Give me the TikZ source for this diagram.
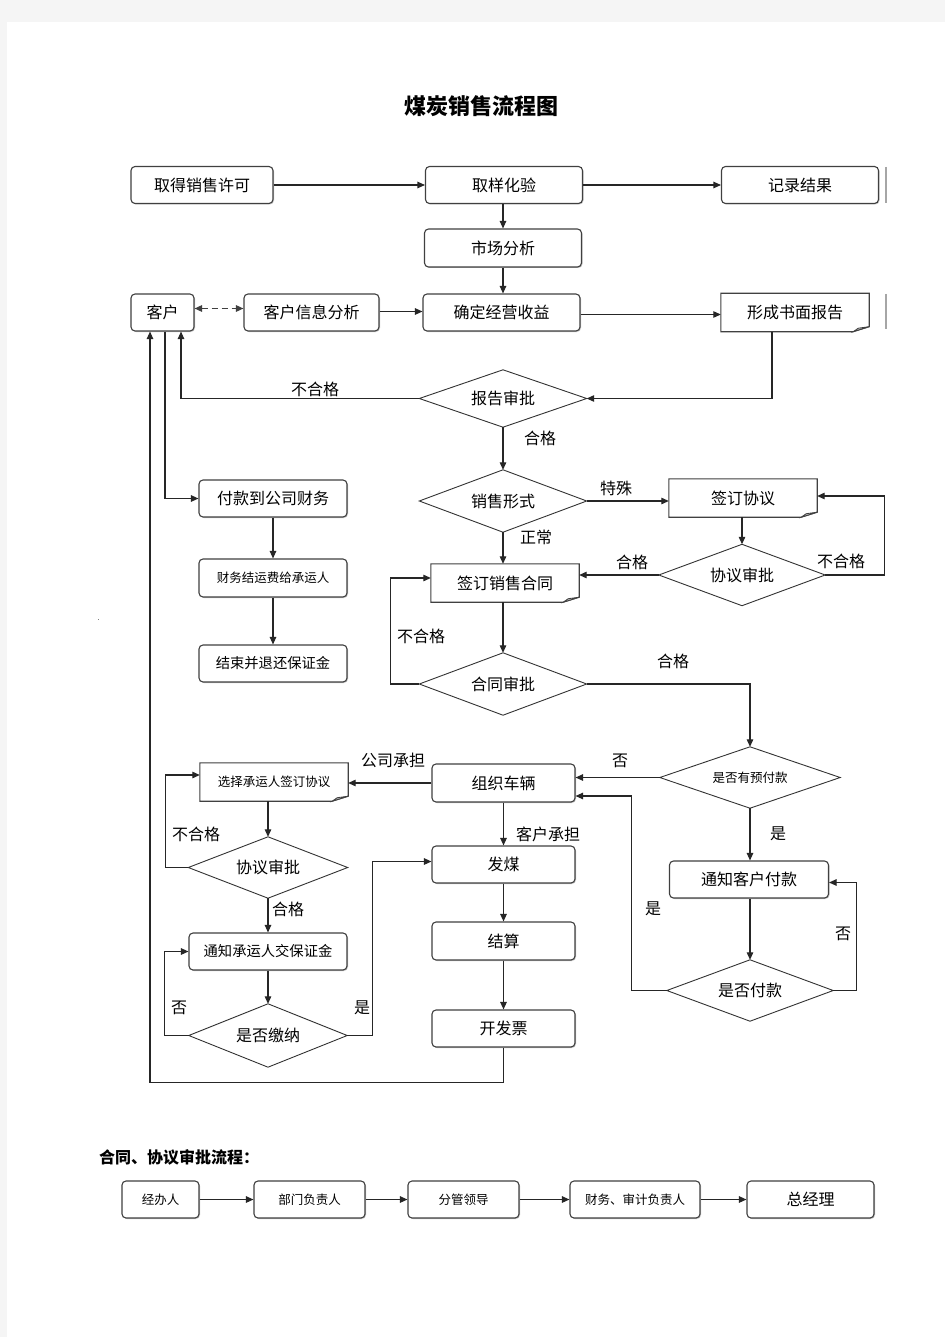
\documentclass[tikz,border=0pt]{standalone}
\usepackage{fontspec}
\setmainfont{Noto Sans CJK SC}
\usetikzlibrary{arrows.meta,shadows}
\newcommand\docoutline[1]{%
  \draw[black!75, line width=1.1pt, fill=white] ([xshift=-16pt]#1.south east) -- (#1.south west) -- (#1.north west) -- (#1.north east) -- ([yshift=5pt]#1.south east) -- cycle;
  \draw[black!75, line width=0.8pt, fill=black!25] ([yshift=5pt]#1.south east) -- ([xshift=-11pt,yshift=3.5pt]#1.south east) -- ([xshift=-16pt]#1.south east) -- cycle;
}
\newcommand\diaoutline[1]{%
  \draw[black!80, line width=0.9pt, line join=miter] (#1.north) -- (#1.east) -- (#1.south) -- (#1.west) -- cycle;
}
\begin{document}
\begin{tikzpicture}[x=1pt,y=-1pt,
  every node/.style={inner sep=0pt, font=\fontsize{16}{18}\selectfont},
  box/.style={draw=black!75, line width=1.1pt, rounded corners=4pt, fill=white, minimum height=37pt,
    drop shadow={shadow xshift=1pt, shadow yshift=-1pt, opacity=0.3, fill=black!70}},
  docbox/.style={minimum height=38pt},
  dia/.style={rectangle},
  arr/.style={draw=black!85, line width=1.1pt, -{Triangle[length=7.5pt,width=6.5pt]}},
  small/.style={font=\fontsize{12.5}{14}\selectfont},
  mid/.style={font=\fontsize{14.3}{16}\selectfont},
]
\fill[black!4] (0,0) rectangle (945,1337);
\fill[white] (7,22) rectangle (945,1337);
\useasboundingbox (0,0) rectangle (945,1337);

\node[font=\fontsize{22}{24}\selectfont\bfseries] (title) at (481,106) {煤炭销售流程图};

% row 1
\node[box, minimum width=142pt] (n1) at (202,185) {取得销售许可};
\node[box, minimum width=157pt] (n2) at (504,185) {取样化验};
\node[box, minimum width=157pt] (n3) at (800,185) {记录结果};
\node[box, minimum width=157pt, minimum height=38pt] (n4) at (503,248) {市场分析};
\node[box, minimum width=63pt] (kh) at (162.5,312.5) {客户};
\node[box, minimum width=135pt] (xx) at (311.5,312.5) {客户信息分析};
\node[box, minimum width=157pt] (qd) at (501.5,312.5) {确定经营收益};
\node[docbox, minimum width=148pt] (bg) at (795,312.5) {};
\docoutline{bg}
\node (bgt) at (bg) {形成书面报告};

% gray cut-off shapes at the right edge
\draw[black!35, line width=1.5pt] (886,167) -- (886,203);
\draw[black!35, line width=1.5pt] (886,294) -- (886,329);

\node[dia, minimum width=167pt, minimum height=57pt] (sp) at (503,398.5) {报告审批};
\diaoutline{sp}
\node[dia, minimum width=167pt, minimum height=62pt] (xs) at (503,501) {销售形式};
\diaoutline{xs}
\node[docbox, minimum width=148pt] (qy) at (743,498) {};
\docoutline{qy}
\node (qyt) at (qy) {签订协议};
\node[dia, minimum width=166pt, minimum height=61pt] (xy) at (742,575) {协议审批};
\diaoutline{xy}
\node[docbox, minimum width=148pt] (ht) at (505,583) {};
\docoutline{ht}
\node (htt) at (ht) {签订销售合同};
\node[dia, minimum width=167pt, minimum height=62pt] (hs) at (503,684) {合同审批};
\diaoutline{hs}
\node[dia, minimum width=180pt, minimum height=61pt, small] (yf) at (750,777.5) {是否有预付款};
\diaoutline{yf}
\node[box, minimum width=143pt, minimum height=38pt] (zz) at (503.5,783) {组织车辆};
\node[docbox, minimum width=148pt] (xc) at (274,782) {};
\docoutline{xc}
\node[small] (xct) at (xc) {选择承运人签订协议};
\node[dia, minimum width=159pt, minimum height=61pt] (xy2) at (268,867.5) {协议审批};
\diaoutline{xy2}
\node[box, minimum width=143pt] (fm) at (503.5,864.5) {发煤};
\node[box, minimum width=158pt, mid] (tz) at (268,951.5) {通知承运人交保证金};
\node[dia, minimum width=158pt, minimum height=63pt] (jn) at (268,1035.5) {是否缴纳};
\diaoutline{jn}
\node[box, minimum width=143pt, minimum height=38pt] (js) at (503.5,941) {结算};
\node[box, minimum width=143pt] (kp) at (503.5,1028.5) {开发票};
\node[box, minimum width=159pt] (tk) at (749,879.5) {通知客户付款};
\node[dia, minimum width=166pt, minimum height=61pt] (sf) at (750,990.5) {是否付款};
\diaoutline{sf}
\node[box, minimum width=148pt] (fk) at (273,498.5) {付款到公司财务};
\node[box, minimum width=148pt, minimum height=38pt, small] (cw) at (273,578) {财务结运费给承运人};
\node[box, minimum width=148pt, mid] (jb) at (273,663.5) {结束并退还保证金};

% labels
\node (l1) at (315,389) {不合格};
\node (l2) at (540,438) {合格};
\node (l3) at (616,488) {特殊};
\node (l4) at (536,537) {正常};
\node (l5) at (632,562) {合格};
\node (l6) at (841,561) {不合格};
\node (l7) at (421,636) {不合格};
\node (l8) at (673,661) {合格};
\node (l9) at (620,761) {否};
\node (l10) at (393,760) {公司承担};
\node (l11) at (548,834) {客户承担};
\node (l12) at (778,834) {是};
\node (l13) at (196,834) {不合格};
\node (l14) at (288,909) {合格};
\node (l15) at (653,909) {是};
\node (l16) at (843,934) {否};
\node (l17) at (179,1008) {否};
\node (l18) at (362,1008) {是};

% connectors
\draw[arr] (n1.east) -- (n2.west);
\draw[arr] (n2.east) -- (n3.west);
\draw[arr] (n2.south -| n4.north) -- (n4.north);
\draw[arr] (n4.south) -- (n4.south |- qd.north);
\draw[arr] ([yshift=1pt]xx.east) -- ([yshift=1pt]qd.west);
\draw[arr] ([yshift=-2pt]qd.east) -- ([yshift=-2pt]bg.west);
\draw[draw=black!75, line width=1.5pt, dash pattern=on 6pt off 4pt, {Triangle[length=7.5pt,width=6.5pt]}-{Triangle[length=7.5pt,width=6.5pt]}] ([yshift=4pt]kh.east) -- ([yshift=4pt]xx.west);
\draw[arr] ([xshift=-23pt]bg.south) |- (sp.east);
\draw[arr] (sp.west) -| ([xshift=18.5pt]kh.south);
\draw[arr] (sp.south) -- (xs.north);
\draw[arr] (xs.east) -- (xs.east -| qy.west);
\draw[arr] (xs.south) -- (xs.south |- ht.north);
\draw[arr] (qy.south -| xy.north) -- (xy.north);
\draw[arr] (xy.west) -- (xy.west -| ht.east);
\draw[arr] (xy.east) -- ++(59,0) |- ([yshift=2pt]qy.east);
\draw[arr] (ht.south -| hs.north) -- (hs.north);
\draw[arr] (hs.west) -- ++(-29,0) |- ([yshift=5pt]ht.west);
\draw[arr] (hs.east) -| (yf.north);
\draw[arr] (yf.west) -- (yf.west -| zz.east);
\draw[arr] (zz.west) -- (zz.west -| xc.east);
\draw[arr] (xc.south -| xy2.north) -- (xy2.north);
\draw[arr] (xy2.west) -- ++(-23,0) |- ([yshift=7pt]xc.west);
\draw[arr] (xy2.south) -- (tz.north);
\draw[arr] (tz.south) -- (jn.north);
\draw[arr] (jn.west) -- ++(-24,0) |- (tz.west);
\draw[arr] (jn.east) -- ++(25,0) |- ([yshift=3pt]fm.west);
\draw[arr] (zz.south) -- (fm.north);
\draw[arr] (fm.south) -- (js.north);
\draw[arr] (js.south) -- (kp.north);
\draw[arr] (kp.south) -- ++(0,35) -| ([xshift=-12.5pt]kh.south);
\draw[arr] (yf.south) -- (yf.south |- tk.north);
\draw[arr] (tk.south -| sf.north) -- (sf.north);
\draw[arr] (sf.east) -- ++(23,0) |- ([yshift=-3pt]tk.east);
\draw[arr] (sf.west) -- ++(-35,0) |- ([yshift=-13pt]zz.east);
\draw[arr] ([xshift=2.5pt]kh.south) |- (fk.west);
\draw[arr] (fk.south) -- (cw.north);
\draw[arr] (cw.south) -- (jb.north);

% tiny mark
\fill[black!50] (97.5,618.5) rectangle (99,620);

% bottom approval chain
\node[anchor=west, font=\fontsize{16}{18}\selectfont\bfseries] (h2) at (99,1157) {合同、协议审批流程：};
\node[box, minimum width=77pt, small] (b1) at (160.5,1199.5) {经办人};
\node[box, minimum width=111pt, small] (b2) at (309.5,1199.5) {部门负责人};
\node[box, minimum width=111pt, small] (b3) at (463.5,1199.5) {分管领导};
\node[box, minimum width=130pt, small] (b4) at (635,1199.5) {财务、审计负责人};
\node[box, minimum width=127pt] (b5) at (810.5,1199.5) {总经理};
\draw[arr] (b1.east) -- (b2.west);
\draw[arr] (b2.east) -- (b3.west);
\draw[arr] (b3.east) -- (b4.west);
\draw[arr] (b4.east) -- (b5.west);
\end{tikzpicture}
\end{document}
